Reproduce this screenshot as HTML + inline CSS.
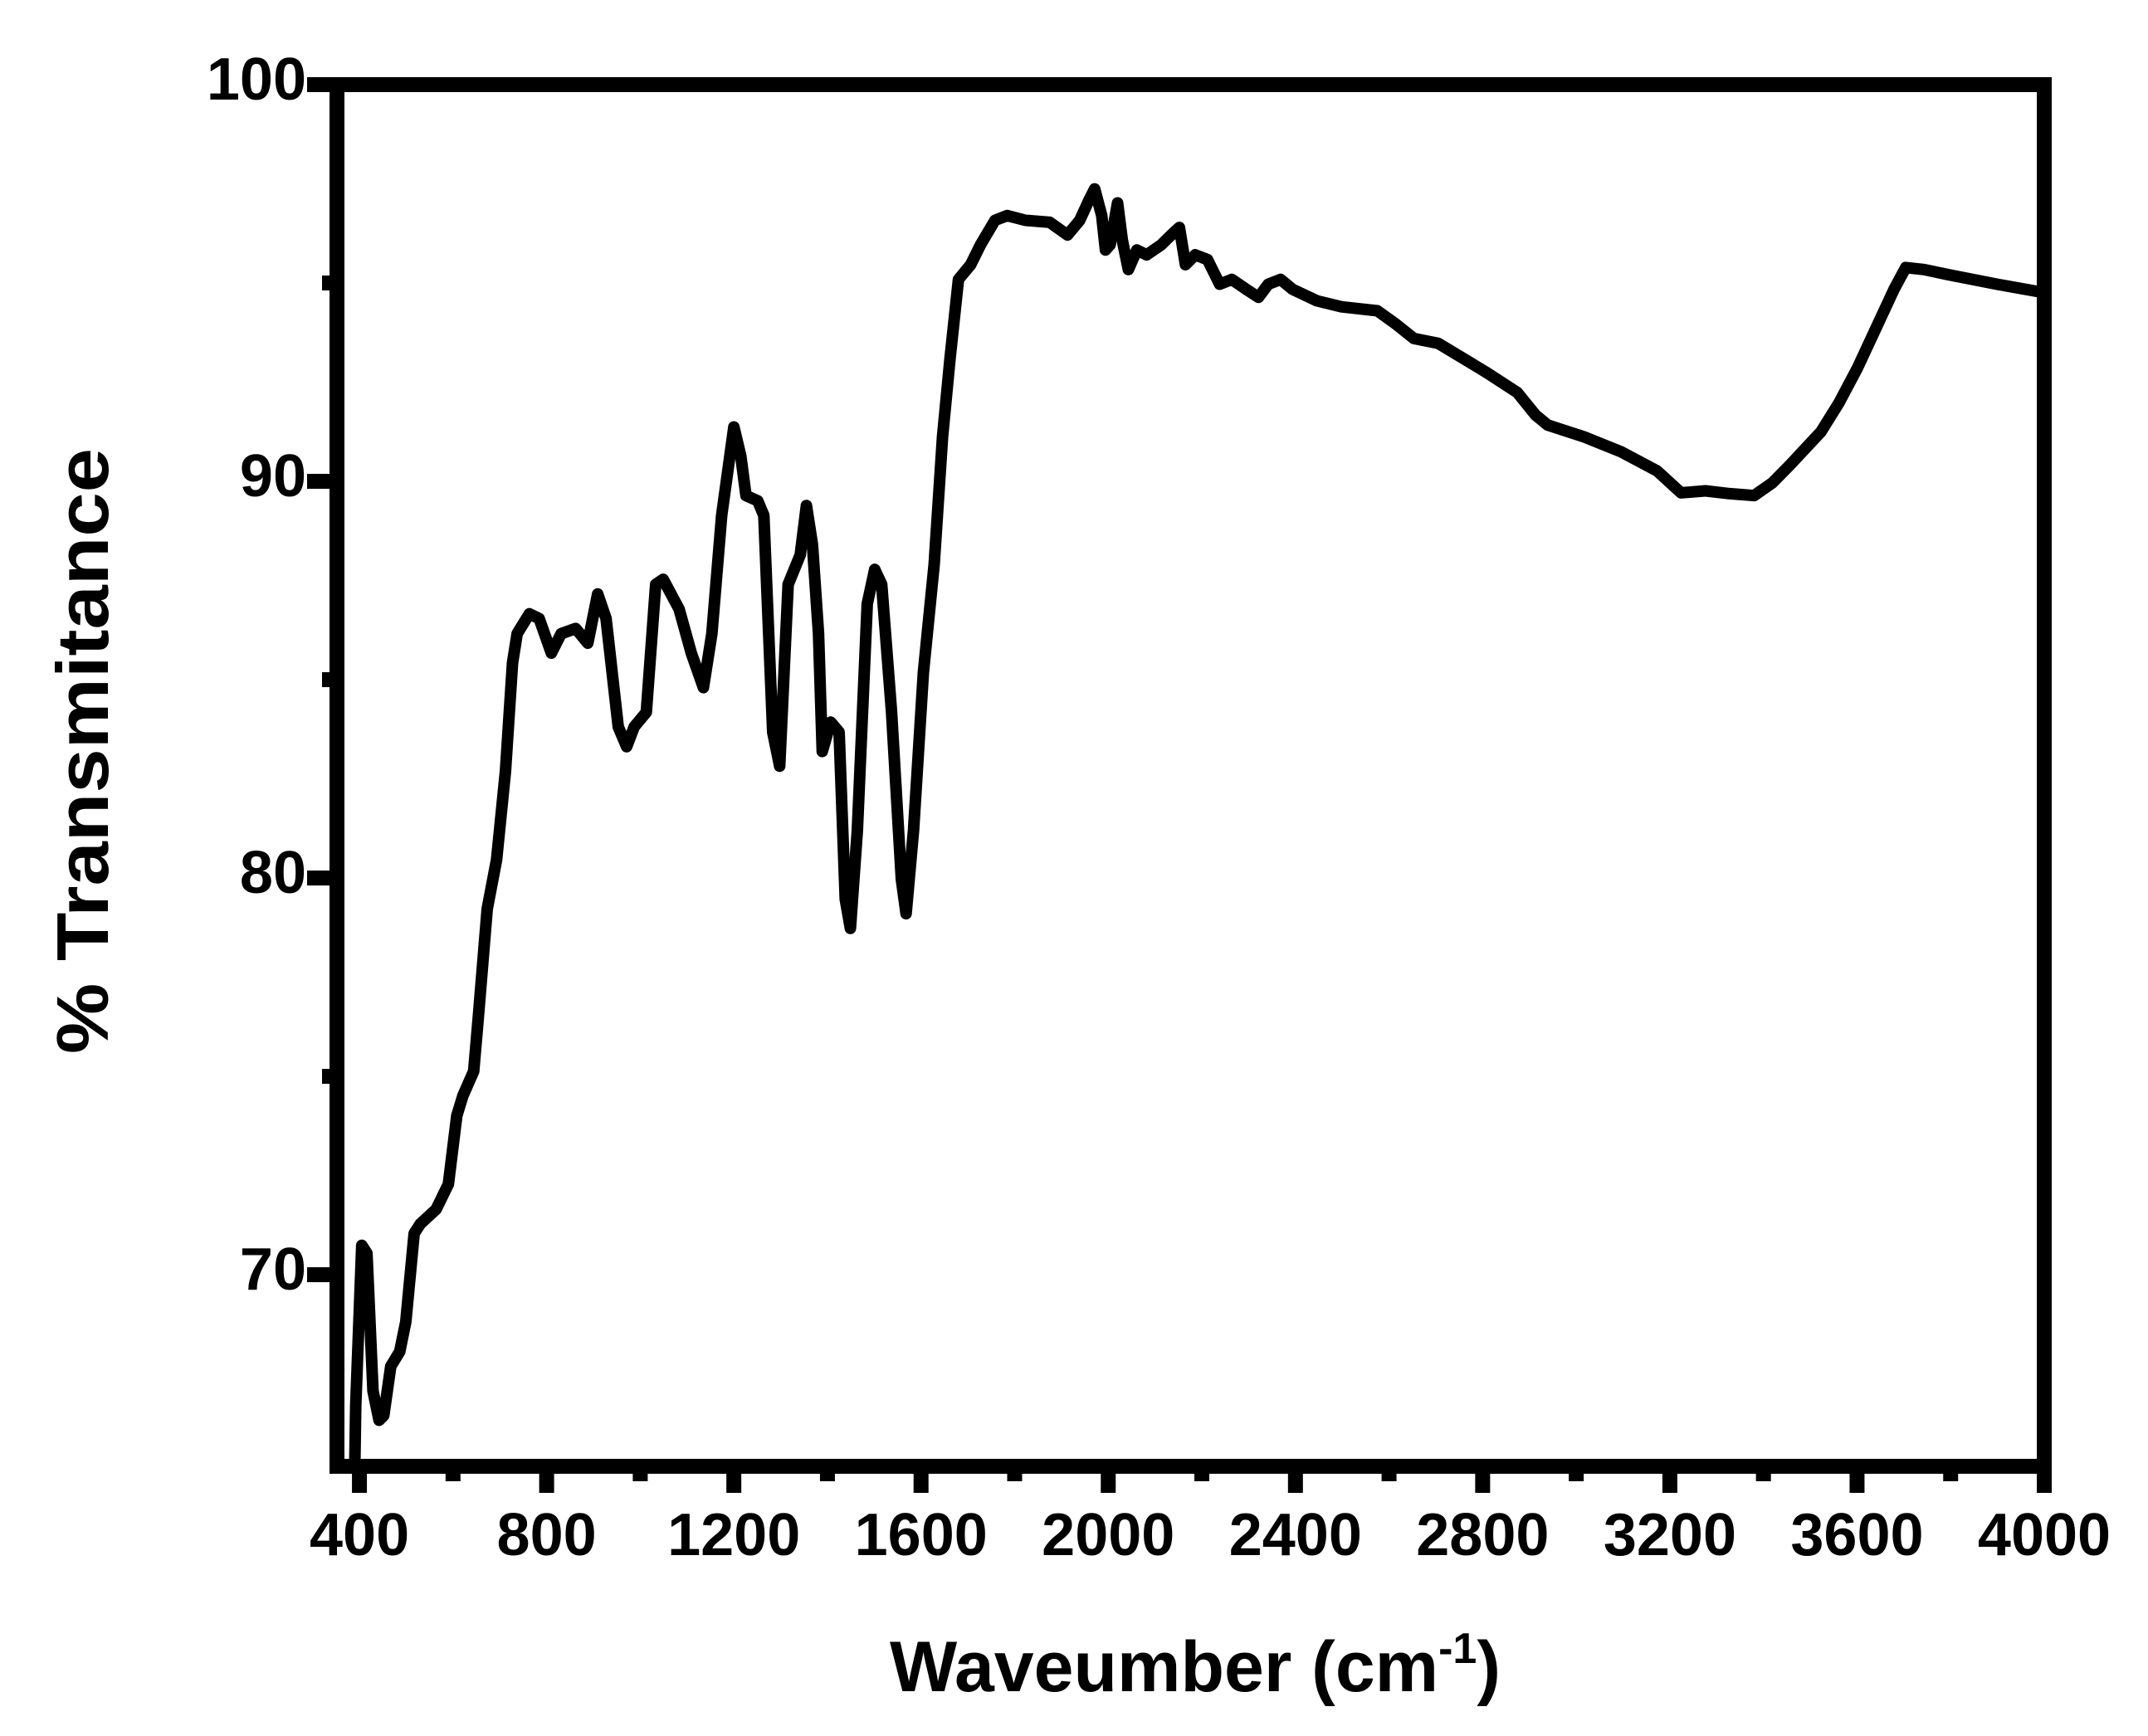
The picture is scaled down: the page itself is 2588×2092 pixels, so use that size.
<!DOCTYPE html>
<html><head><meta charset="utf-8">
<style>
html,body{margin:0;padding:0;background:#fff;}
svg{display:block;}
text{font-family:"Liberation Sans",Arial,sans-serif;font-weight:bold;fill:#000;}
</style></head>
<body>
<svg id="chart" width="2588" height="2092" viewBox="0 0 2588 2092" xmlns="http://www.w3.org/2000/svg">
<defs><clipPath id="plotclip"><rect x="406" y="102" width="2057" height="1665"/></clipPath></defs>
<g id="ticks"></g>
<g id="labels"></g>
<path id="spectrum" clip-path="url(#plotclip)" fill="none" stroke="#000" stroke-width="14" stroke-linejoin="round" stroke-linecap="round"/>
<rect x="406" y="102" width="2057" height="1665" fill="none" stroke="#000" stroke-width="18"/>
<text x="1440" y="2038" font-size="86" text-anchor="middle">Waveumber (cm<tspan font-size="52" dy="-34">-1</tspan><tspan dy="34">)</tspan></text>
<text transform="translate(130,905) rotate(-90)" font-size="88" text-anchor="middle" textLength="730" lengthAdjust="spacingAndGlyphs">% Transmitance</text>
</svg>
<script>
const wavenumbers = [390,392,405,416,429,442,452,467,486,499,517,530,564,590,608,621,644,654,673,693,712,727,737,763,784,810,831,862,888,909,927,953,971,987,1013,1033,1049,1083,1109,1135,1153,1174,1200,1215,1226,1251,1264,1283,1298,1316,1342,1355,1368,1381,1389,1407,1425,1438,1449,1464,1485,1501,1516,1537,1558,1568,1584,1605,1628,1646,1662,1680,1706,1727,1758,1784,1823,1875,1913,1939,1958,1971,1986,1994,2004,2020,2030,2043,2061,2082,2113,2139,2152,2165,2186,2212,2238,2264,2295,2321,2342,2368,2394,2446,2498,2575,2614,2653,2705,2757,2809,2874,2913,2939,3017,3095,3173,3224,3276,3328,3380,3419,3458,3523,3562,3601,3640,3679,3704,3743,3795,3847,3899,3993];
const transmittance = [65.1,66.7,70.74,70.54,67.07,66.33,66.45,67.69,68.06,68.81,71.04,71.28,71.65,72.28,74.01,74.51,75.13,76.49,79.22,80.46,82.69,85.42,86.16,86.66,86.54,85.67,86.16,86.29,85.92,87.16,86.54,83.81,83.31,83.81,84.18,87.40,87.53,86.78,85.67,84.80,86.16,89.14,91.37,90.63,89.64,89.51,89.14,83.68,82.82,87.40,88.15,89.39,88.40,86.16,83.19,83.93,83.68,79.47,78.73,81.21,86.91,87.78,87.40,84.18,79.97,79.10,81.21,85.17,87.90,91.12,93.11,95.09,95.46,95.96,96.58,96.70,96.58,96.53,96.21,96.58,97.07,97.37,96.70,95.83,95.96,97.02,96.08,95.34,95.83,95.71,95.96,96.26,96.40,95.46,95.71,95.59,94.97,95.09,94.84,94.64,94.97,95.09,94.84,94.55,94.40,94.30,93.97,93.60,93.48,93.11,92.74,92.24,91.67,91.42,91.12,90.75,90.26,89.71,89.76,89.69,89.64,89.96,90.43,91.25,91.99,92.86,93.85,94.84,95.39,95.34,95.21,95.09,94.97,94.77];
const xTickValues = [400,800,1200,1600,2000,2400,2800,3200,3600,4000];
const xMinorValues = [600,1000,1400,1800,2200,2600,3000,3400,3800];
const yTickValues = [70,80,90,100];
const yMinorValues = [75,85,95];

const X0=352, X1=4000, Y0=65.17, Y1=100;
const PL=406, PR=2463, PT=102, PB=1767;
function xs(v){return PL+(v-X0)/(X1-X0)*(PR-PL);}
function ys(v){return PB-(v-Y0)/(Y1-Y0)*(PB-PT);}
const NS="http://www.w3.org/2000/svg";
const ticks=document.getElementById('ticks');
const labels=document.getElementById('labels');
function rect(x,y,w,h,name){
  const r=document.createElementNS(NS,'rect');
  r.setAttribute('x',x);r.setAttribute('y',y);r.setAttribute('width',w);r.setAttribute('height',h);
  r.setAttribute('fill','#000');
  
  
  ticks.appendChild(r);
}
function label(x,y,txt,anchor,name){
  const t=document.createElementNS(NS,'text');
  t.setAttribute('x',x);t.setAttribute('y',y);t.setAttribute('font-size','72');t.setAttribute('text-anchor',anchor);
  t.textContent=txt;
  
  
  labels.appendChild(t);
}
xTickValues.forEach(v=>{
  const x=xs(v);
  rect(x-9,PB,18,32,'x-major-tick');
  label(x,1874,String(v),'middle','x-tick-label');
});
xMinorValues.forEach(v=>{ rect(xs(v)-9,PB,18,18,'x-minor-tick'); });
yTickValues.forEach(v=>{
  const y=ys(v);
  rect(370,y-9,40,18,'y-major-tick');
  label(369,y+18,String(v),'end','y-tick-label');
});
yMinorValues.forEach(v=>{ rect(388,ys(v)-9,22,18,'y-minor-tick'); });
let d='';
for(let i=0;i<wavenumbers.length;i++){
  d+=(i?'L':'M')+xs(wavenumbers[i]).toFixed(1)+' '+ys(transmittance[i]).toFixed(1);
}
document.getElementById('spectrum').setAttribute('d',d);
</script>
</body></html>
